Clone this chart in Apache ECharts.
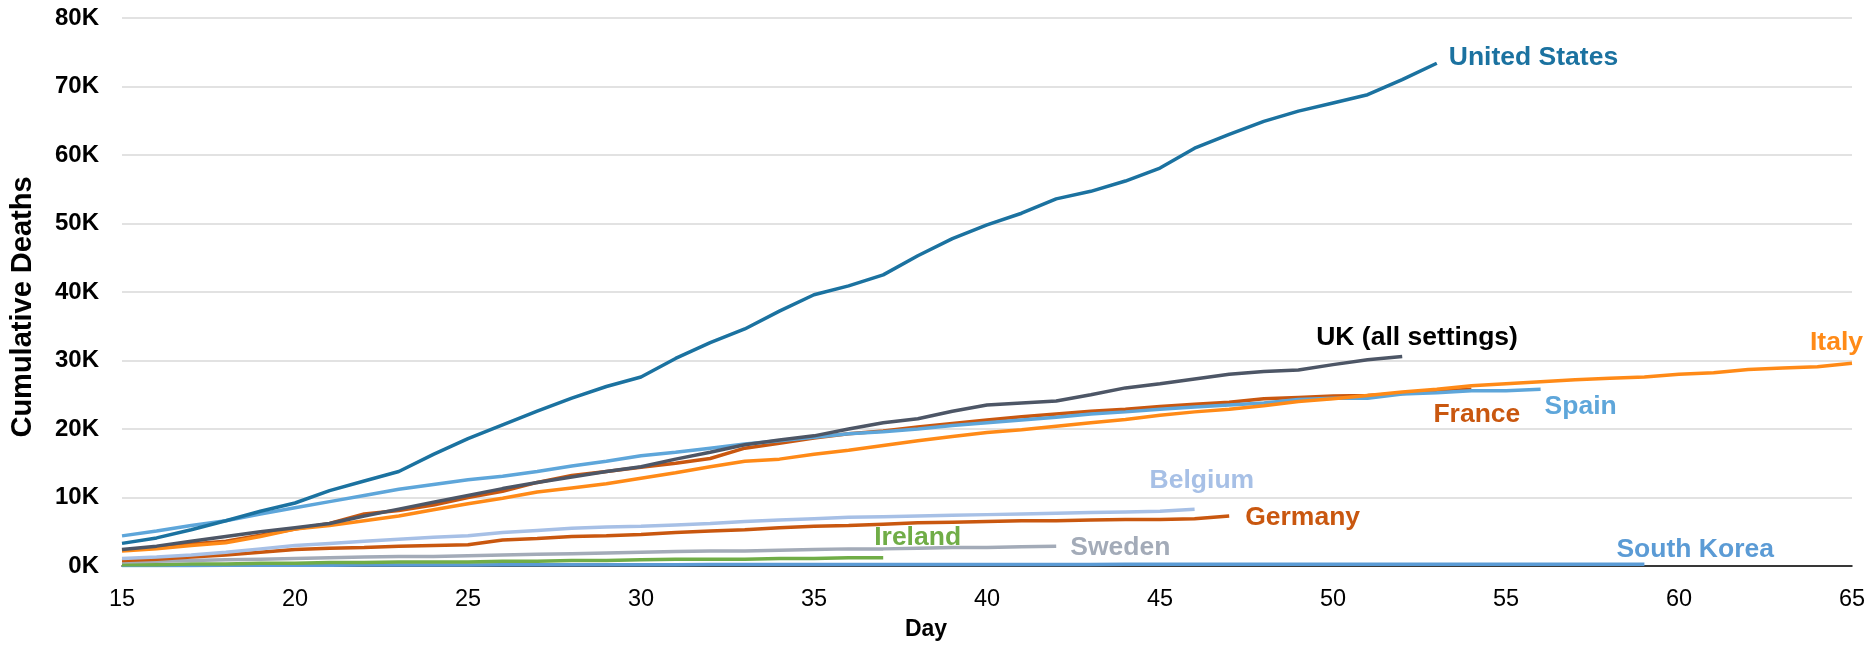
<!DOCTYPE html>
<html>
<head>
<meta charset="utf-8">
<script src="https://cdn.jsdelivr.net/npm/echarts@6/dist/echarts.min.js"></script>
<style>
html,body{margin:0;padding:0;background:#fff;}
#chart{width:1874px;height:646px;}
</style>
</head>
<body>
<div id="chart"></div>
<script>
// Day index of first value in every series
const startDay = 15;
const xTicks = { min: 15, max: 65, interval: 5 };
const yTicks = { min: 0, max: 80000, interval: 10000 };

const countries = ["United States","UK (all settings)","Italy","Spain","France","Belgium","Germany","Sweden","Ireland","South Korea"];

const unitedStates = [3300,4100,5300,6600,8000,9200,11000,12400,13800,16300,18600,20600,22600,24500,26200,27600,30300,32600,34600,37200,39600,40900,42500,45300,47800,49800,51500,53600,54700,56200,58100,61000,63000,64900,66400,67600,68800,71000,73400];
const uk = [2400,2900,3600,4300,5000,5600,6200,7300,8300,9300,10300,11300,12200,13000,13800,14500,15600,16600,17700,18400,19000,20000,20900,21500,22600,23500,23800,24100,25000,26000,26600,27300,28000,28400,28600,29400,30100,30600];
const italy = [2200,2500,3000,3400,4300,5400,5900,6600,7300,8200,9100,9900,10800,11400,12000,12800,13600,14500,15300,15600,16300,16900,17600,18300,18900,19500,19900,20400,20900,21400,22000,22500,22900,23400,24000,24400,24900,25400,25800,26300,26600,26900,27200,27400,27600,28000,28200,28700,28900,29100,29600];
const spain = [4400,5100,5900,6600,7600,8500,9400,10300,11200,11900,12600,13100,13800,14600,15300,16100,16600,17200,17800,18300,18800,19300,19600,20000,20500,20900,21300,21700,22200,22500,22900,23200,23500,23800,24300,24500,24500,25100,25300,25600,25600,25800];
const france = [2300,2700,3200,3600,4500,5400,6200,7600,8100,8900,10000,10900,12200,13200,13800,14400,15000,15700,17200,17900,18700,19300,19700,20300,20800,21300,21800,22200,22600,22900,23300,23600,23900,24400,24600,24800,24900,25200,25500,25800];
const belgium = [1100,1300,1600,2000,2500,3000,3300,3600,3900,4200,4400,4900,5200,5500,5700,5800,6000,6200,6500,6700,6900,7100,7200,7300,7400,7500,7600,7700,7800,7900,8000,8300];
const germany = [800,1000,1300,1600,2000,2400,2600,2700,2900,3000,3100,3800,4000,4300,4400,4600,4900,5100,5300,5600,5800,5900,6100,6300,6400,6500,6600,6600,6700,6800,6800,6900,7300];
const sweden = [600,700,800,900,1000,1100,1200,1300,1400,1400,1500,1600,1700,1800,1900,2000,2100,2200,2200,2300,2400,2500,2500,2600,2700,2700,2800,2900];
const ireland = [200,200,300,300,400,400,500,500,600,600,600,700,700,800,800,900,1000,1000,1000,1100,1100,1200,1200];
const southKorea = [70,80,90,100,100,110,120,130,140,150,160,170,180,190,200,200,200,210,210,210,220,220,220,220,230,230,230,230,230,240,240,240,240,240,240,250,250,250,250,250,250,250,250,250,260];

const seriesValues = [unitedStates, uk, italy, spain, france, belgium, germany, sweden, ireland, southKorea];

// styling (not data)
const colors = ["#1b72a0","#4d5666","#ff8a17","#5ea6da","#c9570f","#a7c0e6","#c9570f","#a3abb8","#70ad47","#5b9bd5"];
const labelColors = ["#1b72a0","#000000","#ff8a17","#5ea6da","#c9570f","#a7c0e6","#c9570f","#a3abb8","#70ad47","#5b9bd5"];
const labelOffsets = [[12,-6],[-86,-19],[-42,-21],[4,17],[-38,25],[-45,-28],[16,2],[14,2],[-9,-20],[-28,-15]];

const FONT = "Liberation Sans, Arial, sans-serif";

const series = countries.map((name, i) => ({
  name: name,
  type: 'line',
  showSymbol: false,
  symbol: 'none',
  smooth: false,
  lineStyle: { width: 3.5, color: colors[i] },
  itemStyle: { color: colors[i] },
  z: 10 - i,
  data: seriesValues[i].map((v, k) => [startDay + k, v]),
  endLabel: {
    show: true,
    formatter: name,
    color: labelColors[i],
    fontFamily: FONT,
    fontWeight: 'bold',
    fontSize: 26.5,
    distance: 0,
    align: 'left',
    verticalAlign: 'middle',
    offset: labelOffsets[i]
  },
  emphasis: { disabled: true }
}));

const chart = echarts.init(document.getElementById('chart'), null, { renderer: 'canvas' });
chart.setOption({
  animation: false,
  backgroundColor: '#ffffff',
  grid: { left: 108, right: 22, top: 18, bottom: 78, containLabel: false },
  xAxis: {
    type: 'value',
    min: xTicks.min, max: xTicks.max, interval: xTicks.interval,
    name: 'Day',
    nameLocation: 'middle',
    nameGap: 52,
    nameTextStyle: { fontFamily: FONT, fontWeight: 'bold', fontSize: 23, color: '#000', padding: [0, 122, 0, 0] },
    axisLine: { show: true, lineStyle: { color: '#000', width: 1.5 } },
    axisTick: { show: false },
    splitLine: { show: false },
    axisLabel: { fontFamily: FONT, fontSize: 23.5, color: '#000', margin: 22 }
  },
  yAxis: {
    type: 'value',
    min: yTicks.min, max: yTicks.max, interval: yTicks.interval,
    name: 'Cumulative Deaths',
    nameLocation: 'middle',
    nameGap: 85,
    nameRotate: 90,
    nameTextStyle: { fontFamily: FONT, fontWeight: 'bold', fontSize: 29, color: '#000', padding: [0, 30, 0, 0] },
    axisLine: { show: false },
    axisTick: { show: false },
    splitLine: { show: true, lineStyle: { color: '#d9d9d9', width: 1.5 } },
    axisLabel: { fontFamily: FONT, fontSize: 24, fontWeight: 'bold', color: '#000', margin: 23,
      formatter: v => (v / 1000) + 'K' }
  },
  series: series
});
</script>
</body>
</html>
